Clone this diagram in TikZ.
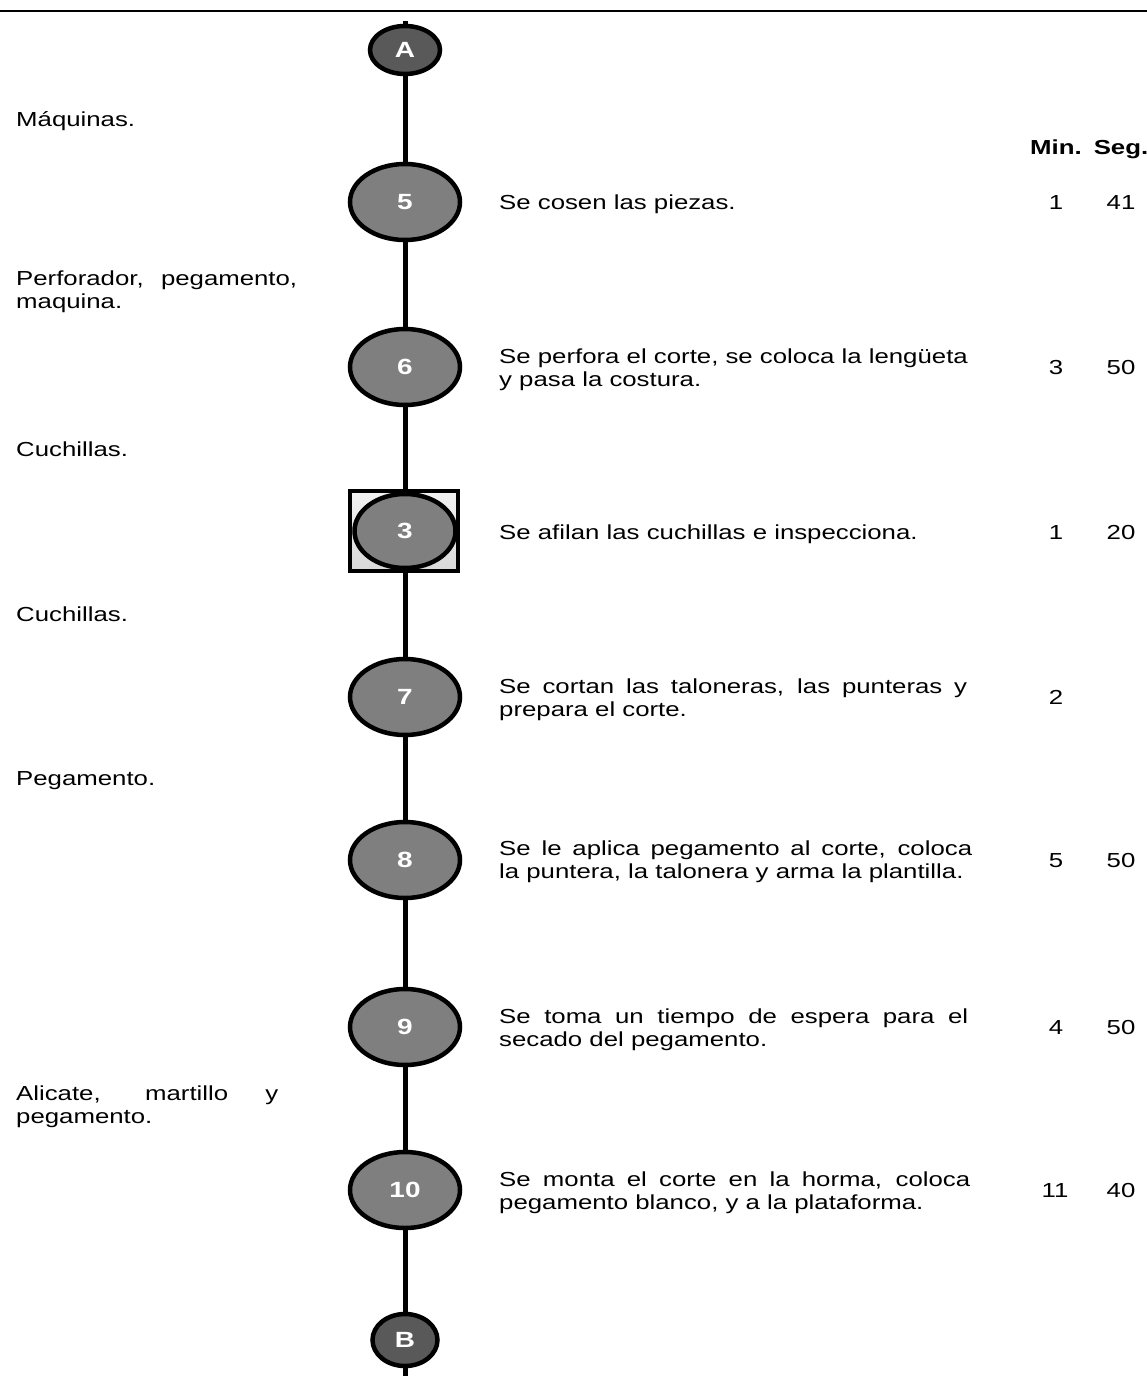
\documentclass[tikz,border=0pt]{standalone}
\usepackage{fontspec}
\setmainfont[FakeStretch=1.27]{Liberation Sans}
\usetikzlibrary{shapes.geometric}
\definecolor{opgray}{HTML}{7F7F7F}
\definecolor{cngray}{HTML}{595959}
\begin{document}
\begin{tikzpicture}[x=1pt,y=-1pt]
\tikzset{
  opnode/.style={ellipse, draw=black, line width=4.5pt, fill=opgray, minimum width=110pt, minimum height=76pt, inner sep=0pt, text=white, font=\fontsize{22}{22}\selectfont\bfseries},
  cnnode/.style={ellipse, draw=black, line width=4.5pt, fill=cngray, inner sep=0pt, text=white, font=\fontsize{22}{22}\selectfont\bfseries},
  inspbox/.style={rectangle, draw=black, line width=3.5pt, top color=gray!10, bottom color=gray!30, minimum width=108pt, minimum height=80pt, inner sep=0pt},
  txt/.style={anchor=base west, inner sep=0pt, font=\fontsize{20.3}{23}\selectfont},
  num/.style={anchor=base, inner sep=0pt, font=\fontsize{20.3}{23}\selectfont},
  hdr/.style={anchor=base, inner sep=0pt, font=\fontsize{20.3}{23}\selectfont\bfseries},
  flow/.style={line width=5pt}
}
\useasboundingbox (0,0) rectangle (1147,1378);
\draw[line width=2.4pt] (0,11) -- (1147,11);

% nodes on the line
\node[cnnode, minimum width=70pt, minimum height=48pt] (A) at (405,50) {A};
\node[opnode] (n5) at (405,202) {5};
\node[opnode] (n6) at (405,367) {6};
\node[inspbox] (sq3) at (404,531) {};
\node[opnode, minimum width=101pt, minimum height=74pt] (n3) at (405,531) {3};
\node[opnode] (n7) at (405,697) {7};
\node[opnode] (n8) at (405,860) {8};
\node[opnode] (n9) at (405,1027) {9};
\node[opnode] (n10) at (405,1190) {10};
\node[cnnode, minimum width=65pt, minimum height=52pt] (B) at (405,1340) {B};
\coordinate (topc) at (405,21);
\coordinate (botc) at (405,1376);

\draw[flow] (topc) -- (A);
\draw[flow] (A) -- (n5);
\draw[flow] (n5) -- (n6);
\draw[flow] (n6) -- (n3);
\draw[flow] (n3) -- (n7);
\draw[flow] (n7) -- (n8);
\draw[flow] (n8) -- (n9);
\draw[flow] (n9) -- (n10);
\draw[flow] (n10) -- (B);
\draw[flow] (B) -- (botc);

% left column
\node[txt] (l1) at (16,127) {Máquinas.};
\node[txt] (l2a) at (16,285) {\makebox[281pt][s]{Perforador,\ \ pegamento,}};
\node[txt] (l2b) at (16,308) {maquina.};
\node[txt] (l3) at (16,456) {Cuchillas.};
\node[txt] (l4) at (16,621) {Cuchillas.};
\node[txt] (l5) at (16,785) {Pegamento.};
\node[txt] (l6a) at (16,1100) {\makebox[262pt][s]{Alicate, martillo y}};
\node[txt] (l6b) at (16,1123) {pegamento.};

% middle column
\node[txt] (m5) at (499,209) {Se cosen las piezas.};
\node[txt] (m6a) at (499,363) {Se perfora el corte, se coloca la lengüeta};
\node[txt] (m6b) at (499,386) {y pasa la costura.};
\node[txt] (m3) at (499,539) {Se afilan las cuchillas e inspecciona.};
\node[txt] (m7a) at (499,693) {\makebox[468pt][s]{Se cortan las taloneras, las punteras y}};
\node[txt] (m7b) at (499,716) {prepara el corte.};
\node[txt] (m8a) at (499,855) {\makebox[473pt][s]{Se le aplica pegamento al corte, coloca}};
\node[txt] (m8b) at (499,878) {la puntera, la talonera y arma la plantilla.};
\node[txt] (m9a) at (499,1023) {\makebox[469pt][s]{Se toma un tiempo de espera para el}};
\node[txt] (m9b) at (499,1046) {secado del pegamento.};
\node[txt] (m10a) at (499,1186) {\makebox[471pt][s]{Se monta el corte en la horma, coloca}};
\node[txt] (m10b) at (499,1209) {pegamento blanco, y a la plataforma.};

% times
\node[hdr] (hmin) at (1056,154) {Min.};
\node[hdr] (hseg) at (1121,154) {Seg.};
\node[num] (t5m) at (1056,209) {1};
\node[num] (t5s) at (1121,209) {41};
\node[num] (t6m) at (1056,374) {3};
\node[num] (t6s) at (1121,374) {50};
\node[num] (t3m) at (1056,539) {1};
\node[num] (t3s) at (1121,539) {20};
\node[num] (t7m) at (1056,704) {2};
\node[num] (t8m) at (1056,867) {5};
\node[num] (t8s) at (1121,867) {50};
\node[num] (t9m) at (1056,1034) {4};
\node[num] (t9s) at (1121,1034) {50};
\node[num] (t10m) at (1055,1197) {11};
\node[num] (t10s) at (1121,1197) {40};
\end{tikzpicture}
\end{document}
